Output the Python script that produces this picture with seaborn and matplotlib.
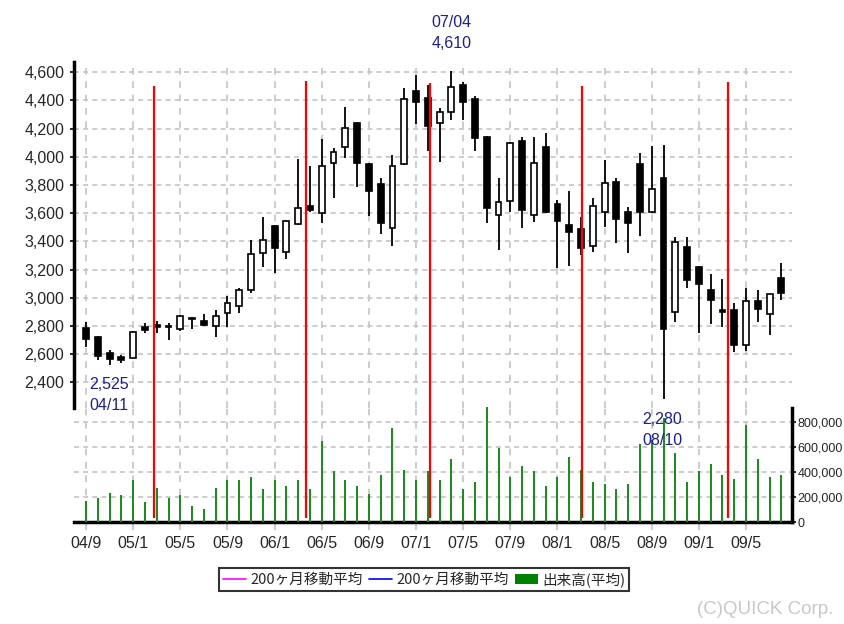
import numpy as np
import pandas as pd
import matplotlib
matplotlib.use("Agg")
import matplotlib.pyplot as plt
import seaborn as sns
from matplotlib import font_manager as fm
from matplotlib.lines import Line2D
from matplotlib.patches import Patch

# ---------------- data ----------------
start_year, start_month = 2004, 9
opens = [2783, 2724, 2606, 2580, 2575, 2790, 2810, 2800, 2778, 2860,
         2835, 2802, 2894, 2944, 3055, 3316, 3509, 3327, 3521, 3653,
         3599, 3954, 4072, 4243, 3949, 3807, 3497, 3947, 4470, 4420,
         4238, 4316, 4510, 4408, 4139, 3587, 3689, 4115, 3587, 4072,
         3665, 3513, 3486, 3369, 3611, 3819, 3611, 3947, 3606, 3848,
         2897, 3358, 3220, 3055, 2913, 2913, 2665, 2977, 2883, 3142]
highs = [2826, 2731, 2629, 2594, 2765, 2823, 2835, 2819, 2878, 2862,
         2885, 2913, 3015, 3067, 3410, 3575, 3516, 3552, 3985, 3935,
         4127, 4061, 4356, 4250, 3958, 3848, 4013, 4487, 4581, 4510,
         4345, 4610, 4533, 4432, 4145, 3848, 4108, 4139, 4139, 4167,
         3694, 3758, 3575, 3706, 3978, 3848, 3642, 4025, 4077, 4084,
         3434, 3434, 3225, 3166, 3131, 2965, 3067, 3055, 3030, 3249]
lows = [2653, 2558, 2525, 2535, 2570, 2752, 2752, 2700, 2766, 2776,
        2800, 2724, 2790, 2890, 3032, 3220, 3174, 3273, 3514, 3611,
        3528, 3710, 3990, 3788, 3580, 3452, 3367, 3940, 4233, 4044,
        3966, 4262, 4262, 4044, 3528, 3339, 3611, 3493, 3540, 3605,
        3209, 3225, 3303, 3327, 3504, 3391, 3316, 3440, 3600, 2280,
        2826, 3071, 2752, 2814, 2795, 2613, 2624, 2826, 2736, 2984]
closes = [2705, 2587, 2563, 2560, 2759, 2770, 2790, 2795, 2873, 2848,
          2810, 2871, 2961, 3055, 3311, 3410, 3351, 3545, 3639, 3620,
          3935, 4037, 4203, 3954, 3760, 3533, 3935, 4408, 4387, 4221,
          4316, 4494, 4391, 4132, 3635, 3677, 4101, 3623, 3958, 3611,
          3545, 3470, 3355, 3651, 3817, 3557, 3533, 3606, 3770, 2778,
          3398, 3126, 3098, 2984, 2900, 2665, 2979, 2920, 3025, 3036]
volumes = [173000, 192000, 232000, 216000, 336000, 160000, 277000, 192000, 218000, 133000,
           106000, 277000, 336000, 336000, 360000, 264000, 336000, 290000, 336000, 264000,
           653000, 408000, 336000, 290000, 224000, 376000, 752000, 421000, 336000, 408000,
           336000, 506000, 264000, 320000, 925000, 592000, 365000, 450000, 408000, 290000,
           365000, 520000, 418000, 320000, 304000, 264000, 304000, 624000, 658000, 832000,
           552000, 320000, 408000, 466000, 378000, 349000, 778000, 506000, 365000, 378000]
tick_labels = ["04/9", "05/1", "05/5", "05/9", "06/1", "06/5", "06/9", "07/1",
               "07/5", "07/9", "08/1", "08/5", "08/9", "09/1", "09/5"]
event_months = [5.77, 18.67, 29.19, 42.08, 54.47]
event_tops = [4503, 4540, 4522, 4503, 4531]
price_ticks = [2400, 2600, 2800, 3000, 3200, 3400, 3600, 3800, 4000, 4200, 4400, 4600]
vol_ticks = [0, 200000, 400000, 600000, 800000]
legend_labels = ["200ヶ月移動平均", "200ヶ月移動平均", "出来高(平均)"]

# ---------------- style ----------------
sns.set_style("white")
names = {f.name for f in fm.fontManager.ttflist}
if "Liberation Sans Narrow" in names:
    num_font, num_size, vol_size = "Liberation Sans Narrow", 13, 11
else:
    num_font, num_size, vol_size = "Liberation Sans", 11.5, 9
plt.rcParams["font.family"] = [num_font, "DejaVu Sans"]

GRID = "#c4c4c4"
NAVY = "#1f1f8f"
BAR_GREEN = "#1e8c1e"

W, H = 845, 624
fig = plt.figure(figsize=(W / 100, H / 100), dpi=100)
L, R = 74 / W, 792 / W
ax_v = fig.add_axes([L, 1 - 522.3 / H, R - L, (522.3 - 408) / H])
ax_p = fig.add_axes([L, 1 - 408 / H, R - L, (408 - 61.7) / H])
ax_p.patch.set_alpha(0)

n = len(opens)
idx = np.arange(n)
xlim = (-1.02, 59.9)

# ---------------- volume panel ----------------
df = pd.DataFrame({"m": idx, "vol": volumes})
sns.barplot(data=df, x="m", y="vol", native_scale=True, width=0.17,
            color=BAR_GREEN, saturation=1, linewidth=0, ax=ax_v, zorder=3)
for p in ax_v.patches:
    p.set_clip_on(False)
ax_v.set_xlim(*xlim)
ax_v.set_ylim(0, 914000)
ax_v.set_xlabel("")
ax_v.set_ylabel("")
ax_v.set_xticks(np.arange(0, n, 4))
ax_v.set_xticklabels(tick_labels)
ax_v.set_yticks(vol_ticks)
ax_v.set_yticklabels([f"{v:,}" for v in vol_ticks])
ax_v.yaxis.tick_right()
ax_v.set_axisbelow(True)
ax_v.xaxis.grid(True, color=GRID, linestyle=(0, (4, 4)), linewidth=1.2)
ax_v.yaxis.grid(True, color=GRID, linestyle=(0, (3, 2.5)), linewidth=1.2)
for s in ("left", "top"):
    ax_v.spines[s].set_visible(False)
for s in ("right", "bottom"):
    ax_v.spines[s].set_visible(True)
    ax_v.spines[s].set_color("black")
    ax_v.spines[s].set_linewidth(2.5)
ax_v.tick_params(axis="y", right=True, left=False, labelleft=False, labelright=True,
                 length=3, width=1.2, color="black", pad=1, labelsize=vol_size)
ax_v.tick_params(axis="x", bottom=True, length=6, width=1.2, color=GRID, pad=4,
                 labelsize=num_size)
ax_v.vlines(event_months, 34000, 914000, color="#ff0000", linewidth=1.6, zorder=4)

# ---------------- price panel ----------------
ylim_p = (2218, 4675)
ax_p.set_xlim(*xlim)
ax_p.set_ylim(*ylim_p)
ax_p.set_xticks(np.arange(0, n, 4))
ax_p.set_yticks(price_ticks)
ax_p.set_yticklabels([f"{v:,}" for v in price_ticks])
ax_p.set_axisbelow(True)
ax_p.xaxis.grid(True, color=GRID, linestyle=(0, (4, 4)), linewidth=1.2)
ax_p.yaxis.grid(True, color=GRID, linestyle=(0, (3, 2.5)), linewidth=1.2)
for s in ("right", "top", "bottom"):
    ax_p.spines[s].set_visible(False)
ax_p.spines["left"].set_visible(True)
ax_p.spines["left"].set_color("black")
ax_p.spines["left"].set_linewidth(2.5)
ax_p.tick_params(axis="y", left=True, length=3, width=1.2, color="black", pad=4,
                 labelsize=num_size)
ax_p.tick_params(axis="x", bottom=False, labelbottom=False)

o = np.array(opens, float)
c = np.array(closes, float)
hi = np.array(highs, float)
lo = np.array(lows, float)
ax_p.vlines(idx, lo, hi, color="black", linewidth=1.3, zorder=3)
bottoms = np.minimum(o, c)
heights = np.maximum(np.abs(c - o), 3)
faces = np.where(c >= o, "white", "black")
ax_p.bar(idx, heights, bottom=bottoms, width=0.5, color=faces, edgecolor="black",
         linewidth=1.2, zorder=4)
ax_p.vlines(event_months, ylim_p[0], event_tops, color="#ff0000", linewidth=1.6, zorder=5)


def ym(i):
    t = start_month - 1 + i
    return f"{(start_year + t // 12) % 100:02d}/{t % 12 + 1:02d}"


i_hi = int(np.argmax(hi))
i_lo = int(np.argmin(lo))
i_lo1 = int(np.argmin(lo[:i_hi]))
kw = dict(textcoords="offset pixels", ha="center", va="center", color=NAVY,
          fontsize=num_size, annotation_clip=False, zorder=6)
ax_p.annotate(f"{int(hi[i_hi]):,}", xy=(i_hi, hi[i_hi]), xytext=(0, 27), **kw)
ax_p.annotate(ym(i_hi), xy=(i_hi, hi[i_hi]), xytext=(0, 48), **kw)
for j in (i_lo1, i_lo):
    ax_p.annotate(f"{int(lo[j]):,}", xy=(j, lo[j]), xytext=(-1, -20), **kw)
    ax_p.annotate(ym(j), xy=(j, lo[j]), xytext=(-1, -41), **kw)

# ---------------- legend & credit ----------------
handles = [Line2D([], [], color="#ff00ff", linewidth=1.2),
           Line2D([], [], color="#0000ff", linewidth=1.2),
           Patch(facecolor="#008000", edgecolor="none")]
leg = fig.legend(handles, legend_labels, loc="center",
                 bbox_to_anchor=(424 / W, 1 - 579.5 / H), ncol=3, frameon=True,
                 fancybox=False, edgecolor="black",
                 prop={"family": ["Noto Sans CJK JP", "DejaVu Sans"], "size": 10.5},
                 handlelength=1.6, handletextpad=0.3, columnspacing=0.4,
                 borderpad=0.25, borderaxespad=0)
leg.get_frame().set_linewidth(1.5)
fig.text(697 / W, 1 - 610 / H, "(C)QUICK Corp.", color="#c8c8c8",
         fontsize=13.5, ha="left", va="center")

fig.savefig("out.png", dpi=100)
